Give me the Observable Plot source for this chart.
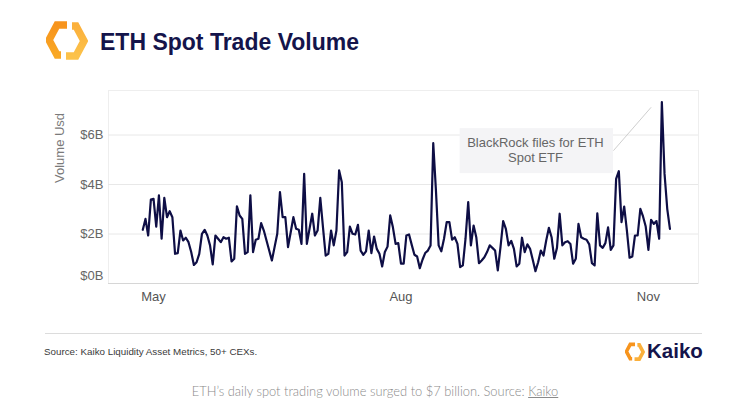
<!DOCTYPE html>
<html><head><meta charset="utf-8">
<script src="https://cdn.jsdelivr.net/npm/d3@7"></script>
<script src="https://cdn.jsdelivr.net/npm/@observablehq/plot@0.6"></script>
<style>
html,body{margin:0;padding:0;background:#fff;width:750px;height:410px;overflow:hidden;position:relative;font-family:"Liberation Sans",Arial,sans-serif;}
#logo{position:absolute;left:46px;top:21px;}
#title{position:absolute;left:100px;top:29px;font-size:23px;font-weight:bold;color:#14144b;}
#chart{position:absolute;left:0;top:70px;}
#rule{position:absolute;left:45px;top:333px;width:657px;height:1px;background:#dcdcdc;}
#source{position:absolute;left:44px;top:346px;font-size:9.8px;color:#3a3a3a;}
#brand{position:absolute;left:625px;top:341px;}
#brandtext{position:absolute;left:647px;top:339px;font-size:20.5px;font-weight:bold;color:#14144b;}
#caption{position:absolute;left:0;width:750px;text-align:center;top:383px;font-family:"Lato",sans-serif;font-size:12.9px;color:#8a8a8a;font-weight:300;}
#caption u{text-decoration:underline;}
</style></head>
<body>
<svg id="logo" width="42" height="40" viewBox="0 0 42 40">
  <defs>
    <linearGradient id="g1" x1="0" y1="0" x2="0" y2="1"><stop offset="0" stop-color="#f7941d"/><stop offset="1" stop-color="#f9a825"/></linearGradient>
    <linearGradient id="g2" x1="0" y1="0" x2="0" y2="1"><stop offset="0" stop-color="#fbb03b"/><stop offset="1" stop-color="#fcc24a"/></linearGradient>
  </defs>
  <path d="M21,4 L11,4 L3,19 L11,34 L15,34" fill="none" stroke="url(#g1)" stroke-width="7.5" stroke-linejoin="miter"/>
  <path d="M20,35 L30,35 L38,20 L30,5 L26,5" fill="none" stroke="url(#g2)" stroke-width="7.5" stroke-linejoin="miter"/>
</svg>
<div id="title">ETH Spot Trade Volume</div>
<div id="chart"></div>
<div id="rule"></div>
<div id="source">Source: Kaiko Liquidity Asset Metrics, 50+ CEXs.</div>
<svg id="brand" width="20" height="22" viewBox="0 0 42 40">
  <path d="M21,4 L11,4 L3,19 L11,34 L15,34" fill="none" stroke="#f7941d" stroke-width="7.5"/>
  <path d="M20,35 L30,35 L38,20 L30,5 L26,5" fill="none" stroke="#fbb03b" stroke-width="7.5"/>
</svg>
<div id="brandtext">Kaiko</div>
<div id="caption">ETH’s daily spot trading volume surged to $7 billion. Source: <u>Kaiko</u></div>
<script>
// Daily ETH spot volume (billions USD), starting 2023-04-27
const volumes = [
  2.17, 2.61, 1.94, 3.39, 3.42, 2.30, 3.56, 1.81, 3.46, 2.68, 2.92, 2.68, 1.20, 1.23, 2.14, 1.74, 1.85, 1.67, 1.27, 0.75,
  0.86, 1.20, 2.01, 2.17, 1.94, 1.54, 0.77, 1.94, 1.81, 1.67, 1.87, 1.81, 1.85, 0.89, 1.00, 3.12, 2.75, 2.61, 1.20, 1.27,
  3.56, 1.27, 1.77, 1.81, 2.44, 2.14, 1.74, 1.33, 0.93, 1.47, 2.01, 3.69, 2.68, 2.68, 1.47, 2.07, 2.68, 2.21, 2.17, 1.60,
  4.43, 1.60, 2.21, 2.82, 1.94, 2.14, 3.46, 2.27, 1.13, 1.20, 2.14, 1.54, 2.14, 4.57, 4.09, 1.13, 1.27, 2.30,
  2.01, 1.98, 2.37, 1.33, 1.16, 1.30, 2.14, 1.23, 1.90, 1.40, 1.20, 0.69, 1.27, 1.49, 2.75, 2.27, 1.60, 1.63, 0.80, 0.80,
  1.94, 1.98, 1.56, 1.16, 1.09, 0.62, 0.96, 1.23, 1.33, 1.54, 5.67, 3.76, 1.54, 1.30, 1.81, 2.48, 2.48, 1.77, 1.87,
  1.60, 0.66, 0.73, 1.81, 3.29, 1.54, 2.34, 1.87, 0.82, 0.93, 1.06, 1.27, 1.54, 1.44, 1.33, 0.53, 1.47, 2.52, 2.21, 1.54,
  1.72, 1.40, 0.69, 0.80, 1.85, 1.27, 1.58, 1.40, 0.96, 0.50, 0.86, 1.33, 1.13, 1.74, 2.25, 1.87, 1.00, 1.44,
  2.82, 1.54, 1.67, 1.71, 1.60, 0.80, 1.00, 2.41, 1.87, 1.81, 1.77, 1.58, 0.82, 0.73, 2.84, 1.54, 1.44, 1.63, 2.27, 1.36,
  1.54, 4.23, 4.54, 2.48, 3.11, 2.14, 1.04, 1.09, 1.94, 1.94, 3.02, 2.71, 2.30, 1.36, 2.57, 2.41, 2.52, 1.81, 7.33, 4.43,
  3.02, 2.21
];
const startDate = new Date(Date.UTC(2023, 3, 27));
const xDomain = [new Date(Date.UTC(2023, 3, 14, 6)), new Date(Date.UTC(2023, 10, 19, 15))];
const yDomain = [0, 7.8];
const xTicks = [new Date(Date.UTC(2023, 4, 1)), new Date(Date.UTC(2023, 7, 1)), new Date(Date.UTC(2023, 10, 1))];
const yTicks = [2, 4, 6];
const yZeroTick = [0];
const yLabel = "Volume Usd";

// annotation
const annotationText = ["BlackRock files for ETH\nSpot ETF"];
const annotationBox = [{x1: new Date(Date.UTC(2023, 7, 23)), x2: new Date(Date.UTC(2023, 9, 19)), y1: 4.44, y2: 6.26}];
const annotationTextPos = [{date: new Date(Date.UTC(2023, 8, 20)), value: 5.39, text: annotationText[0]}];
const annotationLeader = [{x1: new Date(Date.UTC(2023, 9, 19)), y1: 5.37, x2: new Date(Date.UTC(2023, 10, 2)), y2: 7.12}];

const dates = d3.utcDay.range(startDate, d3.utcDay.offset(startDate, volumes.length));
const data = volumes.map((v, i) => ({date: dates[i], volume: v}));
const fmt = d => `$${d}B`;

const chart = Plot.plot({
  width: 750, height: 245,
  marginLeft: 108, marginRight: 52, marginTop: 20, marginBottom: 32,
  style: {fontFamily: "'Liberation Sans', Arial, sans-serif", fontSize: "13px", color: "#666", background: "transparent"},
  x: {type: "utc", domain: xDomain},
  y: {domain: yDomain},
  marks: [
    Plot.frame({stroke: "#eeeeee"}),
    Plot.gridY(yTicks, {stroke: "#e8e8e8", strokeOpacity: 1}),
    Plot.ruleY(yZeroTick, {stroke: "#d6d6d6"}),
    Plot.axisY(yTicks, {tickSize: 0, tickPadding: 5, tickFormat: fmt, label: null, fill: "#666"}),
    Plot.axisY(yZeroTick, {tickSize: 0, tickPadding: 5, tickFormat: fmt, label: null, fill: "#666", dy: -8}),
    Plot.axisX(xTicks, {tickSize: 0, tickPadding: 8, tickFormat: d3.utcFormat("%b"), label: null, fill: "#555"}),
    Plot.text([yLabel], {frameAnchor: "left", rotate: -90, dx: -49, dy: -4, fill: "#7a7a7a", fontSize: 13}),
    Plot.rect(annotationBox, {x1: "x1", x2: "x2", y1: "y1", y2: "y2", fill: "#f4f4f6"}),
    Plot.text(annotationTextPos, {x: "date", y: "value", text: "text", fill: "#666", fontSize: 13, lineHeight: 1.15}),
    Plot.link(annotationLeader, {x1: "x1", y1: "y1", x2: "x2", y2: "y2", stroke: "#cfcfcf", strokeWidth: 1}),
    Plot.line(data, {x: "date", y: "volume", stroke: "#0e0e45", strokeWidth: 2.2, strokeLinejoin: "round"})
  ]
});
document.getElementById("chart").appendChild(chart);
</script>
</body></html>
